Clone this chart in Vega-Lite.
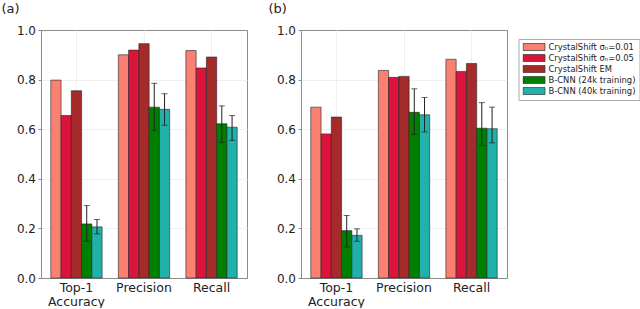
{
  "$schema": "https://vega.github.io/schema/vega-lite/v6.json",
  "padding": {"left": 0, "top": 2, "right": 0, "bottom": 0},
  "config": {
    "font": "DejaVu Sans",
    "view": {"stroke": "#8c8c8c", "strokeWidth": 1},
    "axisY": {"values": [0, 0.2, 0.4, 0.6, 0.8, 1.0], "format": ".1f", "labelFontSize": 12, "grid": true, "gridColor": "#efefef", "gridOpacity": {"condition": {"test": "datum.value == 0 || datum.value == 1", "value": 0}, "value": 1}, "domain": true, "domainColor": "#8c8c8c", "tickSize": 3, "tickColor": "#8c8c8c", "labelColor": "#222", "labelPadding": 2.5, "title": null},
    "axisX": {"labelAngle": 0, "ticks": false, "domain": true, "domainColor": "#8c8c8c", "labelFontSize": 12.5, "labelPadding": 3.5, "grid": true, "gridColor": "#efefef", "bandPosition": 0.5, "labelBaseline": "top", "labelLineHeight": 13.5, "labelColor": "#222", "title": null},
    "legend": {"title": null, "labelFontSize": 8.4, "labelColor": "#222", "symbolType": "M-1,-0.32H1V0.32H-1Z", "symbolSize": 484, "clipHeight": 8, "rowPadding": 2, "padding": 4, "labelOffset": 3, "strokeColor": "#aaaaaa", "fillColor": "white", "symbolStrokeColor": "#333", "symbolStrokeWidth": 0.7, "symbolOpacity": 1},
    "title": {"fontSize": 13, "fontWeight": "normal", "anchor": "start", "color": "#222"}
  },
  "data": {"values": [
    {"panel": "a", "metric": "Top-1 Accuracy", "model": "CrystalShift σₙ=0.01", "value": 0.798},
    {"panel": "a", "metric": "Top-1 Accuracy", "model": "CrystalShift σₙ=0.05", "value": 0.655},
    {"panel": "a", "metric": "Top-1 Accuracy", "model": "CrystalShift EM", "value": 0.755},
    {"panel": "a", "metric": "Top-1 Accuracy", "model": "B-CNN (24k training)", "value": 0.218, "lo": 0.148, "hi": 0.292},
    {"panel": "a", "metric": "Top-1 Accuracy", "model": "B-CNN (40k training)", "value": 0.206, "lo": 0.178, "hi": 0.236},
    {"panel": "a", "metric": "Precision", "model": "CrystalShift σₙ=0.01", "value": 0.900},
    {"panel": "a", "metric": "Precision", "model": "CrystalShift σₙ=0.05", "value": 0.919},
    {"panel": "a", "metric": "Precision", "model": "CrystalShift EM", "value": 0.945},
    {"panel": "a", "metric": "Precision", "model": "B-CNN (24k training)", "value": 0.689, "lo": 0.596, "hi": 0.785},
    {"panel": "a", "metric": "Precision", "model": "B-CNN (40k training)", "value": 0.680, "lo": 0.616, "hi": 0.743},
    {"panel": "a", "metric": "Recall", "model": "CrystalShift σₙ=0.01", "value": 0.917},
    {"panel": "a", "metric": "Recall", "model": "CrystalShift σₙ=0.05", "value": 0.847},
    {"panel": "a", "metric": "Recall", "model": "CrystalShift EM", "value": 0.891},
    {"panel": "a", "metric": "Recall", "model": "B-CNN (24k training)", "value": 0.622, "lo": 0.546, "hi": 0.694},
    {"panel": "a", "metric": "Recall", "model": "B-CNN (40k training)", "value": 0.608, "lo": 0.555, "hi": 0.655},
    {"panel": "b", "metric": "Top-1 Accuracy", "model": "CrystalShift σₙ=0.01", "value": 0.689},
    {"panel": "b", "metric": "Top-1 Accuracy", "model": "CrystalShift σₙ=0.05", "value": 0.581},
    {"panel": "b", "metric": "Top-1 Accuracy", "model": "CrystalShift EM", "value": 0.649},
    {"panel": "b", "metric": "Top-1 Accuracy", "model": "B-CNN (24k training)", "value": 0.191, "lo": 0.125, "hi": 0.252},
    {"panel": "b", "metric": "Top-1 Accuracy", "model": "B-CNN (40k training)", "value": 0.172, "lo": 0.148, "hi": 0.198},
    {"panel": "b", "metric": "Precision", "model": "CrystalShift σₙ=0.01", "value": 0.837},
    {"panel": "b", "metric": "Precision", "model": "CrystalShift σₙ=0.05", "value": 0.809},
    {"panel": "b", "metric": "Precision", "model": "CrystalShift EM", "value": 0.813},
    {"panel": "b", "metric": "Precision", "model": "B-CNN (24k training)", "value": 0.668, "lo": 0.579, "hi": 0.763},
    {"panel": "b", "metric": "Precision", "model": "B-CNN (40k training)", "value": 0.658, "lo": 0.589, "hi": 0.728},
    {"panel": "b", "metric": "Recall", "model": "CrystalShift σₙ=0.01", "value": 0.882},
    {"panel": "b", "metric": "Recall", "model": "CrystalShift σₙ=0.05", "value": 0.833},
    {"panel": "b", "metric": "Recall", "model": "CrystalShift EM", "value": 0.865},
    {"panel": "b", "metric": "Recall", "model": "B-CNN (24k training)", "value": 0.604, "lo": 0.534, "hi": 0.707},
    {"panel": "b", "metric": "Recall", "model": "B-CNN (40k training)", "value": 0.602, "lo": 0.545, "hi": 0.689}
  ]},
  "spacing": 19,
  "resolve": {"scale": {"color": "independent"}, "legend": {"color": "independent"}},
  "hconcat": [
    {
      "title": {"text": "(a)", "dx": -15, "offset": 8},
      "width": 206,
      "height": 248,
      "transform": [{"filter": "datum.panel == 'a'"}],
      "encoding": {
        "x": {"field": "metric", "type": "nominal", "sort": ["Top-1 Accuracy", "Precision", "Recall"], "scale": {"paddingInner": 0.24, "paddingOuter": 0.145}, "axis": {"labelExpr": "datum.label == 'Top-1 Accuracy' ? ['Top-1', 'Accuracy'] : datum.label"}},
        "xOffset": {"field": "model", "type": "nominal", "sort": ["CrystalShift σₙ=0.01", "CrystalShift σₙ=0.05", "CrystalShift EM", "B-CNN (24k training)", "B-CNN (40k training)"]}
      },
      "layer": [
        {
          "mark": {"type": "bar", "stroke": "#222", "strokeWidth": 0.7, "strokeOpacity": 0.85},
          "encoding": {
            "y": {"field": "value", "type": "quantitative", "scale": {"domain": [0, 1]}},
            "color": {"field": "model", "type": "nominal", "scale": {"domain": ["CrystalShift σₙ=0.01", "CrystalShift σₙ=0.05", "CrystalShift EM", "B-CNN (24k training)", "B-CNN (40k training)"], "range": ["#fa8072", "#dc143c", "#a52a2a", "#008000", "#20b2aa"]}, "legend": null}
          }
        },
        {
          "transform": [{"filter": "datum.lo != null"}],
          "mark": {"type": "rule", "color": "#222", "strokeWidth": 1},
          "encoding": {"y": {"field": "lo", "type": "quantitative"}, "y2": {"field": "hi"}}
        },
        {
          "transform": [{"filter": "datum.lo != null"}],
          "mark": {"type": "tick", "color": "#222", "thickness": 1, "size": 6},
          "encoding": {"y": {"field": "lo", "type": "quantitative"}}
        },
        {
          "transform": [{"filter": "datum.lo != null"}],
          "mark": {"type": "tick", "color": "#222", "thickness": 1, "size": 6},
          "encoding": {"y": {"field": "hi", "type": "quantitative"}}
        }
      ]
    },
    {
      "title": {"text": "(b)", "dx": -8, "offset": 8},
      "width": 206,
      "height": 248,
      "transform": [{"filter": "datum.panel == 'b'"}],
      "encoding": {
        "x": {"field": "metric", "type": "nominal", "sort": ["Top-1 Accuracy", "Precision", "Recall"], "scale": {"paddingInner": 0.24, "paddingOuter": 0.145}, "axis": {"labelExpr": "datum.label == 'Top-1 Accuracy' ? ['Top-1', 'Accuracy'] : datum.label"}},
        "xOffset": {"field": "model", "type": "nominal", "sort": ["CrystalShift σₙ=0.01", "CrystalShift σₙ=0.05", "CrystalShift EM", "B-CNN (24k training)", "B-CNN (40k training)"]}
      },
      "layer": [
        {
          "mark": {"type": "bar", "stroke": "#222", "strokeWidth": 0.7, "strokeOpacity": 0.85},
          "encoding": {
            "y": {"field": "value", "type": "quantitative", "scale": {"domain": [0, 1]}},
            "color": {"field": "model", "type": "nominal", "scale": {"domain": ["CrystalShift σₙ=0.01", "CrystalShift σₙ=0.05", "CrystalShift EM", "B-CNN (24k training)", "B-CNN (40k training)"], "range": ["#fa8072", "#dc143c", "#a52a2a", "#008000", "#20b2aa"]}, "legend": {"orient": "none", "legendX": 217.5, "legendY": 9}}
          }
        },
        {
          "transform": [{"filter": "datum.lo != null"}],
          "mark": {"type": "rule", "color": "#222", "strokeWidth": 1},
          "encoding": {"y": {"field": "lo", "type": "quantitative"}, "y2": {"field": "hi"}}
        },
        {
          "transform": [{"filter": "datum.lo != null"}],
          "mark": {"type": "tick", "color": "#222", "thickness": 1, "size": 6},
          "encoding": {"y": {"field": "lo", "type": "quantitative"}}
        },
        {
          "transform": [{"filter": "datum.lo != null"}],
          "mark": {"type": "tick", "color": "#222", "thickness": 1, "size": 6},
          "encoding": {"y": {"field": "hi", "type": "quantitative"}}
        }
      ]
    }
  ]
}
